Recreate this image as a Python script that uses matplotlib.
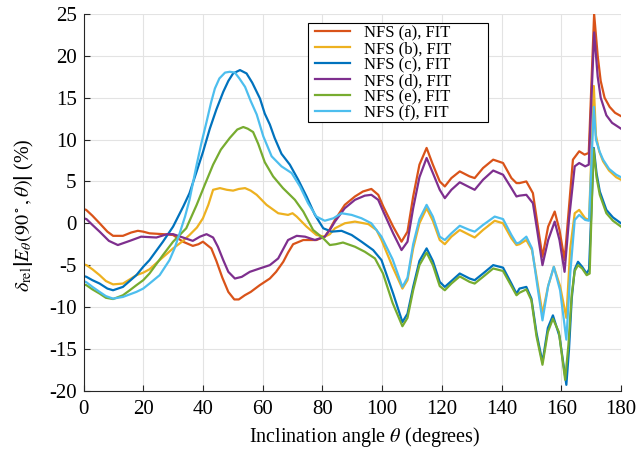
import numpy as np
import matplotlib
matplotlib.use('Agg')
import matplotlib.pyplot as plt
from matplotlib.patches import Rectangle

plt.rcParams['font.family'] = 'serif'
plt.rcParams['font.serif'] = ['Liberation Serif', 'DejaVu Serif']
plt.rcParams['mathtext.fontset'] = 'stix'
plt.rcParams['axes.unicode_minus'] = False

# (theta in degrees, relative error in %)
curve_a = [(0, 1.7), (0.9, 1.6), (3, 0.9), (5.4, 0.0), (8, -1.0), (9.9, -1.5), (13.2, -1.5), (16, -1.1),
           (18.2, -0.9), (20, -1.0), (22.1, -1.2), (26.6, -1.3), (30, -1.4), (33.3, -2.2), (36.6, -2.7),
           (38.5, -2.5), (40, -2.2), (42.8, -3.0), (44.5, -4.5), (46.5, -6.5), (48.5, -8.2), (50.5, -9.1),
           (52, -9.1), (54, -8.6), (56, -8.2), (59, -7.4), (62.4, -6.6), (64.5, -5.8), (66.9, -4.6),
           (68.5, -3.5), (70.2, -2.5), (73.6, -2.0), (78, -2.0), (80.8, -1.6), (82.5, -0.7), (84.2, 0.4),
           (87.5, 2.2), (90.9, 3.2), (93.6, 3.8), (96.4, 4.1), (98.7, 3.4), (100.4, 2.0), (103.7, -0.4),
           (106.5, -2.2), (108.5, -1.0), (110.4, 3.2), (112.5, 7.0), (114.9, 9.0), (117, 7.0), (119.3, 5.0),
           (121, 4.4), (123.2, 5.4), (126, 6.2), (129.3, 5.6), (131, 5.4), (133.8, 6.6), (137.2, 7.6),
           (140.5, 7.2), (143.3, 5.4), (145, 4.8), (146, 4.8), (148.3, 5.0), (150.5, 3.6), (152, 0.0),
           (153.7, -4.0), (155.6, -0.4), (157.8, 1.4), (159.4, -0.8), (161.1, -4.4), (162.6, 2.0),
           (163.9, 7.6), (166, 8.6), (167.8, 8.2), (169.2, 8.4), (171, 25.0), (172.2, 20.0), (173.2, 17.0),
           (174.5, 15.0), (176.2, 13.9), (178, 13.2), (180, 12.8)]

curve_b = [(0, -4.9), (1, -5.0), (3, -5.5), (5.4, -6.2), (7.5, -6.9), (9.9, -7.3), (13.2, -7.2), (15.5, -6.7),
           (17.7, -6.2), (20, -5.9), (22.1, -5.5), (25.5, -4.4), (30, -3.0), (33, -2.2), (35.5, -1.4),
           (38, -0.5), (40, 0.6), (41.8, 2.2), (43.4, 4.0), (45.7, 4.2), (48, 4.0), (50.1, 3.9), (52, 4.1),
           (54.1, 4.2), (56, 3.9), (58, 3.4), (61.3, 2.2), (65.2, 1.2), (68.5, 1.0), (70, 1.2), (71.4, 0.8),
           (74.7, -0.4), (78, -1.4), (80.8, -1.6), (82.5, -1.3), (84.2, -0.6), (87.5, 0.0), (90.9, 0.2),
           (95.4, -0.1), (98.1, -0.8), (99.8, -2.0), (103.5, -5.2), (106.8, -7.8), (108.5, -6.8),
           (110.4, -3.0), (112.5, 0.0), (114.9, 1.8), (117, 0.3), (119.3, -2.0), (121, -2.5), (123.2, -1.6),
           (126, -0.8), (129.3, -1.4), (131, -1.7), (133.8, -0.8), (137.7, 0.3), (140.5, 0.0), (143.3, -1.8),
           (145, -2.6), (146, -2.5), (148.3, -2.0), (150.2, -3.2), (152, -7.0), (153.7, -10.8), (155.6, -7.5),
           (157.5, -5.2), (159.6, -7.5), (161.7, -11.3), (163, -3.0), (164.5, 1.2), (166, 1.6), (168, 0.6),
           (169.3, 0.4), (170.9, 16.4), (171.6, 10.5), (172.7, 8.6), (174, 7.4), (176, 6.3), (178.4, 5.5),
           (180, 5.2)]

curve_c = [(0, -6.3), (1, -6.4), (3, -6.8), (5.4, -7.2), (8, -7.8), (9.9, -8.0), (13.2, -7.6), (17.7, -6.2),
           (20, -5.2), (22.1, -4.4), (26.6, -2.2), (30, -0.4), (33.4, 2.0), (35.5, 3.6), (37.9, 6.2),
           (40, 8.5), (42.3, 11.3), (44.5, 13.6), (46.8, 15.7), (48.5, 17.0), (50.1, 17.9), (52.4, 18.3),
           (54.6, 17.9), (56.5, 16.8), (59.1, 14.9), (60.7, 13.1), (62.4, 11.8), (64, 10.2), (66.3, 8.3),
           (69.1, 7.0), (71.9, 5.2), (74.7, 3.2), (77.5, 1.0), (80.3, -0.6), (83.1, -1.0), (86.4, -0.9),
           (89.8, -1.4), (93.1, -2.2), (97, -3.2), (99.8, -4.4), (103.7, -8.4), (106.8, -11.8), (108.5, -10.8),
           (110.4, -7.6), (112.5, -4.5), (114.9, -3.0), (117, -4.5), (119.3, -7.0), (121, -7.6), (123.2, -6.9),
           (126, -6.0), (129.3, -6.6), (131, -6.8), (133.8, -6.0), (137.2, -5.0), (140.5, -5.3), (143.3, -7.2),
           (145, -8.4), (146, -7.8), (148.3, -7.6), (150, -9.0), (151.7, -13.1), (153.7, -16.6), (155.5, -12.5),
           (157.2, -11.0), (159.4, -13.5), (161.7, -19.3), (162.6, -15.0), (163.5, -9.0), (164.5, -5.5),
           (165.6, -4.6), (167, -5.2), (168.5, -6.0), (169.3, -5.5), (170.9, 9.0), (171.8, 6.0), (172.9, 3.8),
           (175.1, 1.6), (177.3, 0.7), (180, 0.0)]

curve_d = [(0, 0.6), (1, 0.5), (3, -0.2), (5.4, -1.0), (8.5, -2.1), (11.5, -2.6), (15.5, -2.1), (19.3, -1.6),
           (24.4, -1.7), (28, -1.3), (30, -1.3), (33.3, -1.7), (36.6, -2.1), (39, -1.6), (41.2, -1.3),
           (43.4, -1.7), (45, -2.8), (46.8, -4.4), (48.5, -5.8), (50.7, -6.6), (53, -6.4), (55.7, -5.8),
           (59, -5.4), (62.4, -5.0), (65.2, -4.2), (68.5, -2.0), (71.4, -1.5), (74.2, -1.6), (77.5, -2.0),
           (80.8, -1.6), (82.5, -0.8), (84.2, 0.2), (87.5, 1.8), (90.9, 2.8), (94.2, 3.3), (96.4, 3.4),
           (98.7, 2.8), (100.4, 1.4), (103.7, -1.2), (106.5, -3.2), (108.5, -2.2), (110.4, 1.8), (112.5, 5.5),
           (114.9, 7.8), (117, 6.0), (119.3, 4.0), (121, 3.0), (123.2, 4.0), (126, 4.9), (129.3, 4.3),
           (131, 4.0), (133.8, 5.2), (137.2, 6.3), (140.5, 5.8), (143.3, 4.2), (145, 3.2), (146, 3.3),
           (148.3, 3.4), (150.5, 2.4), (152, -1.0), (153.7, -5.0), (155.6, -2.0), (157.8, 0.2), (159.4, -2.0),
           (161.1, -5.8), (162.6, 0.5), (164.5, 6.8), (166, 7.2), (168, 6.8), (169.2, 7.0), (171, 22.8),
           (172.2, 17.5), (173.2, 15.0), (175.1, 12.9), (177, 12.0), (180, 11.3)]

curve_e = [(0, -7.3), (1, -7.4), (3, -7.9), (5.4, -8.4), (7.5, -8.9), (9.9, -9.05), (13.2, -8.6), (15.5, -8.0),
           (17.7, -7.4), (20, -6.8), (22.1, -6.0), (26.6, -3.8), (30, -2.2), (34.4, -0.6), (37.9, 2.2),
           (40.5, 4.5), (43.4, 7.0), (46, 8.8), (49, 10.2), (51.5, 11.2), (53.5, 11.5), (55, 11.3),
           (56.8, 10.9), (58.5, 9.5), (60.7, 7.3), (63.5, 5.6), (66.8, 4.2), (70.8, 2.8), (73.6, 1.4),
           (76.9, -0.8), (80.3, -1.8), (82.5, -2.6), (84.5, -2.5), (86.9, -2.3), (90.9, -2.8), (94.2, -3.4),
           (97.6, -4.2), (100.3, -6.0), (103.5, -9.5), (106.8, -12.3), (108.5, -11.3), (110.4, -8.0),
           (112.5, -5.0), (114.9, -3.5), (117, -5.0), (119.3, -7.5), (121, -8.0), (123.2, -7.2), (126, -6.35),
           (129.3, -7.0), (131, -7.2), (133.8, -6.4), (137.2, -5.4), (140.5, -5.7), (143.3, -7.5), (145, -8.6),
           (146, -8.3), (148.3, -7.9), (150, -9.2), (151.7, -13.5), (153.7, -16.9), (155.5, -13.0),
           (157.2, -11.4), (159.2, -13.0), (161.3, -18.7), (162.4, -14.5), (163.5, -8.5), (164.5, -5.7),
           (165.6, -5.0), (167, -5.4), (168.5, -6.2), (169.5, -6.0), (170.8, 8.9), (171.8, 5.5), (172.9, 3.4),
           (175.1, 1.2), (177.3, 0.3), (180, -0.4)]

curve_f = [(0, -6.9), (1, -7.05), (3, -7.6), (5.4, -8.2), (7.5, -8.7), (9.9, -9.0), (13.2, -8.8), (17.7, -8.2),
           (20, -7.8), (22.1, -7.2), (25.5, -6.2), (28.8, -4.4), (30.5, -3.0), (32.2, -1.2), (34, 0.8),
           (35.5, 2.8), (37.9, 7.0), (39.5, 9.6), (41.2, 12.1), (42.7, 14.4), (44, 16.1), (45.5, 17.3),
           (47.4, 18.0), (49, 18.1), (50.7, 18.0), (52.2, 17.3), (54.1, 16.3), (56, 14.6), (58, 13.0),
           (60.2, 10.4), (63, 8.0), (66.3, 6.8), (69.7, 6.0), (72.5, 4.4), (75.2, 2.4), (78, 0.8), (80.8, 0.3),
           (83.7, 0.6), (86.4, 1.2), (89.8, 1.0), (93.1, 0.6), (96.4, 0.0), (99.8, -1.6), (103.5, -4.3),
           (106.8, -7.6), (108.5, -6.5), (110.4, -2.5), (112.5, 0.5), (114.9, 2.2), (117, 0.8), (119.3, -1.6),
           (121, -2.0), (123.2, -1.2), (126, -0.3), (129.3, -0.8), (131, -1.0), (133.8, -0.2), (137.7, 0.8),
           (140.5, 0.5), (143.3, -1.4), (145, -2.4), (146, -2.3), (148.3, -1.6), (150.2, -3.0), (152, -7.5),
           (153.7, -11.6), (155.6, -7.5), (157.5, -5.2), (159.6, -8.0), (161.7, -13.9), (163, -6.0),
           (164.5, 0.4), (166, 1.0), (168, 0.4), (169.3, 0.3), (170.9, 13.9), (171.6, 10.0), (172.9, 8.5),
           (174, 7.6), (176, 6.5), (178.4, 5.8), (180, 5.5)]

labels = ['NFS (a), FIT', 'NFS (b), FIT', 'NFS (c), FIT', 'NFS (d), FIT', 'NFS (e), FIT', 'NFS (f), FIT']
colors = ['#D95319', '#EDB120', '#0072BD', '#7E2F8E', '#77AC30', '#4DBEEE']
curves = [curve_a, curve_b, curve_c, curve_d, curve_e, curve_f]

W, H = 637, 451
fig = plt.figure(figsize=(W / 100, H / 100), dpi=100)
ax = fig.add_axes([83.5 / W, 1 - 390.7 / H, (621 - 83.5) / W, (390.7 - 14) / H])

for pts, lab, col in zip(curves, labels, colors):
    arr = np.array(pts)
    ax.plot(arr[:, 0], arr[:, 1], color=col, lw=1.6, label=lab)

ax.set_xlim(0, 180)
ax.set_ylim(-20, 25)
ax.set_xticks(np.arange(0, 181, 20))
ax.set_yticks(np.arange(-20, 26, 5))
ax.grid(True, color='#e3e3e3', lw=0.8)
ax.set_axisbelow(True)
for s in ['top', 'right']:
    ax.spines[s].set_visible(False)
for s in ['left', 'bottom']:
    ax.spines[s].set_color('#262626')
    ax.spines[s].set_linewidth(0.8)
ax.tick_params(direction='in', length=4, width=0.8, colors='#262626', labelsize=15, labelcolor='black')
ax.tick_params(axis='x', pad=7)
ax.tick_params(axis='y', pad=5)

ax.set_xlabel(r'Inclination angle $\theta$ (degrees)', fontsize=14.5)
ax.xaxis.set_label_coords((365 - 83.5) / (621 - 83.5), -(437 - 390.7) / (390.7 - 14), transform=ax.transAxes)
ax.xaxis.label.set_va('center')
ax.set_ylabel(r'$\delta_{\rm rel}\left|E_\theta(90^\circ,\theta)\right|$ (%)', fontsize=14.5)
ax.yaxis.set_label_coords(-(83.5 - 24) / (621 - 83.5), (390.7 - 215) / (390.7 - 14), transform=ax.transAxes)
ax.yaxis.label.set_va('center')

# legend box (MATLAB style: wider than its text)
ax.add_patch(Rectangle((308 / W, 1 - 122 / H), 180 / W, 99 / H, transform=fig.transFigure,
                       facecolor='white', edgecolor='black', lw=0.8, zorder=4.9, clip_on=False))
leg = ax.legend(loc='upper left', bbox_to_anchor=(312 / W, 1 - 22 / H), bbox_transform=fig.transFigure,
                borderaxespad=0, fontsize=12, frameon=False, handlelength=2.1, handletextpad=0.85,
                labelspacing=0.0, borderpad=0.2)
leg.set_zorder(5)

fig.savefig('out.png', dpi=100)
